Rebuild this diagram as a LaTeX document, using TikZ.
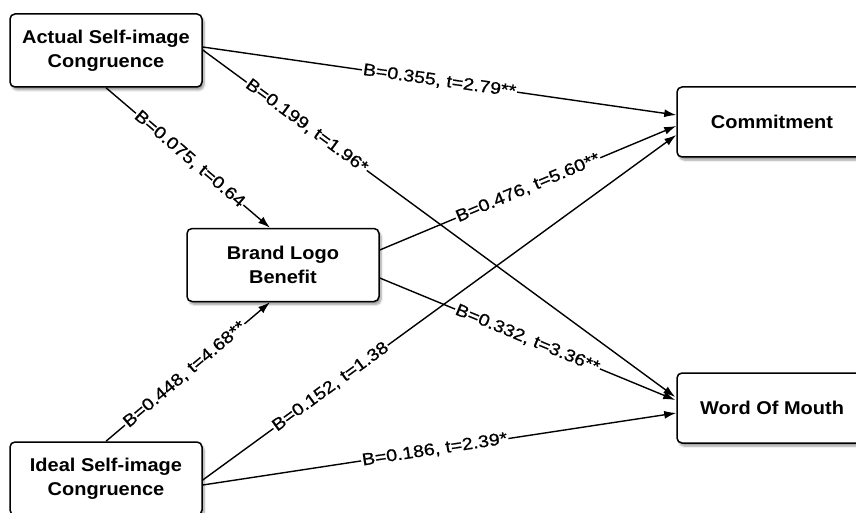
\documentclass[tikz,border=0pt]{standalone}
\usepackage{fontspec}
\setmainfont{Liberation Sans}
\newfontfamily\boxfont[FakeStretch=1.08]{Liberation Sans}
\newfontfamily\lblfont[FakeStretch=1.15,FakeBold=0.8]{Liberation Sans}
\usetikzlibrary{arrows.meta,calc,shadows.blur}
\begin{document}
\begin{tikzpicture}[x=1pt,y=-1pt,
  box/.style={draw=black, line width=1.5pt, rounded corners=5pt, fill=white,
    minimum width=192pt, minimum height=73pt, align=center,
    font=\boxfont\bfseries\fontsize{18.5}{24}\selectfont,
    blur shadow={shadow xshift=2pt, shadow yshift=-3pt, shadow blur steps=6, shadow opacity=40}},
  sbox/.style={box, minimum width=190pt, minimum height=70pt},
  conn/.style={line width=1.4pt, -{Latex[length=12pt,width=8pt]}},
  lbl/.style={sloped, fill=white, inner sep=1pt, font=\lblfont\fontsize{17}{20}\selectfont}]
\useasboundingbox (0,0) rectangle (856,513);
\clip (0,0) rectangle (856,513);
\node[box] (act) at (106,50.5) {Actual Self-image\\Congruence};
\node[box] (brand) at (283,265) {Brand Logo\\Benefit};
\node[box] (ideal) at (106,478.5) {Ideal Self-image\\Congruence};
\node[sbox] (com) at (772,122) {Commitment};
\node[sbox] (wom) at (772,408) {Word Of Mouth};

\draw[conn] ($(act.east)+(0,-3.5)$) -- node[lbl,pos=0.5]{B=0.355, t=2.79**} ($(com.west)+(0,-7)$);
\draw[conn] ($(act.east)+(0,-0.5)$) -- node[lbl,pos=0.22]{B=0.199, t=1.96*} ($(wom.west)+(-1,-11)$);
\draw[conn] (act.south) -- node[lbl,pos=0.51]{B=0.075, t=0.64} ($(brand.north)+(-13,0)$);
\draw[conn] ($(brand.east)+(0,-15)$) -- node[lbl,pos=0.5]{B=0.476, t=5.60**} ($(com.west)+(0,4)$);
\draw[conn] ($(brand.east)+(0,13)$) -- node[lbl,pos=0.5]{B=0.332, t=3.36**} ($(wom.west)+(-1,-8)$);
\draw[conn] (ideal.north) -- node[lbl,pos=0.48]{B=0.448, t=4.68**} ($(brand.south)+(-13,0)$);
\draw[conn] ($(ideal.east)+(0,1.5)$) -- node[lbl,pos=0.27]{B=0.152, t=1.38} ($(com.west)+(0,13)$);
\draw[conn] ($(ideal.east)+(0,6.5)$) -- node[lbl,pos=0.49]{B=0.186, t=2.39*} ($(wom.west)+(0,5)$);
\end{tikzpicture}
\end{document}
